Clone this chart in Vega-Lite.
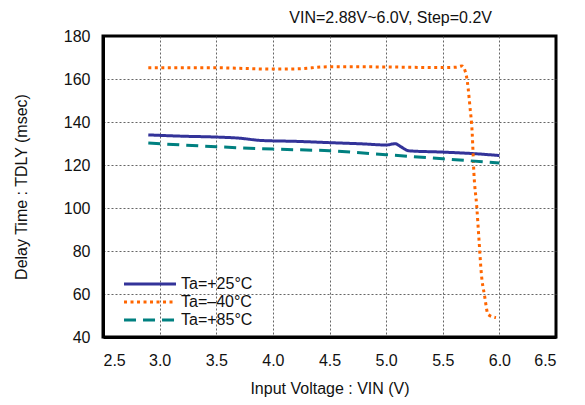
{
  "$schema": "https://vega.github.io/schema/vega-lite/v6.json",
  "width": 453,
  "height": 301,
  "autosize": {"type": "none"},
  "padding": {"left": 103, "top": 36, "right": 29, "bottom": 68},
  "background": "white",
  "config": {
    "font": "Liberation Sans",
    "view": {"stroke": "#000000", "strokeWidth": 3, "strokeOpacity": 1},
    "axis": {
      "labelFont": "Liberation Sans",
      "titleFont": "Liberation Sans",
      "labelFontSize": 16,
      "titleFontSize": 16,
      "labelColor": "#111",
      "titleColor": "#111",
      "titleFontWeight": "normal",
      "gridColor": "#555",
      "gridDash": [2, 2],
      "gridWidth": 1,
      "ticks": false,
      "domain": true,
      "domainColor": "#000000",
      "domainWidth": 3
    },
    "legend": {"padding": 0}
  },
  "title": {
    "text": "VIN=2.88V~6.0V, Step=0.2V",
    "anchor": "end",
    "frame": "group",
    "dx": -64,
    "offset": 2,
    "fontSize": 16,
    "fontWeight": "normal",
    "font": "Liberation Sans",
    "color": "#111"
  },
  "data": {
    "values": [
      {"v": 2.9, "t": 134.0, "s": "Ta=+25°C"},
      {"v": 3.2, "t": 133.4, "s": "Ta=+25°C"},
      {"v": 3.5, "t": 133.0, "s": "Ta=+25°C"},
      {"v": 3.7, "t": 132.5, "s": "Ta=+25°C"},
      {"v": 3.9, "t": 131.4, "s": "Ta=+25°C"},
      {"v": 4.2, "t": 131.0, "s": "Ta=+25°C"},
      {"v": 4.5, "t": 130.4, "s": "Ta=+25°C"},
      {"v": 4.8, "t": 129.8, "s": "Ta=+25°C"},
      {"v": 5.0, "t": 129.3, "s": "Ta=+25°C"},
      {"v": 5.08, "t": 129.9, "s": "Ta=+25°C"},
      {"v": 5.13, "t": 128.5, "s": "Ta=+25°C"},
      {"v": 5.2, "t": 126.6, "s": "Ta=+25°C"},
      {"v": 5.5, "t": 126.0, "s": "Ta=+25°C"},
      {"v": 5.8, "t": 125.2, "s": "Ta=+25°C"},
      {"v": 6.0, "t": 124.4, "s": "Ta=+25°C"},
      {"v": 2.9, "t": 165.2, "s": "Ta=–40°C"},
      {"v": 3.5, "t": 165.2, "s": "Ta=–40°C"},
      {"v": 4.0, "t": 164.6, "s": "Ta=–40°C"},
      {"v": 4.2, "t": 164.7, "s": "Ta=–40°C"},
      {"v": 4.5, "t": 165.7, "s": "Ta=–40°C"},
      {"v": 5.0, "t": 165.6, "s": "Ta=–40°C"},
      {"v": 5.5, "t": 165.3, "s": "Ta=–40°C"},
      {"v": 5.62, "t": 165.5, "s": "Ta=–40°C"},
      {"v": 5.67, "t": 166.1, "s": "Ta=–40°C"},
      {"v": 5.71, "t": 161.1, "s": "Ta=–40°C"},
      {"v": 5.74, "t": 147.2, "s": "Ta=–40°C"},
      {"v": 5.76, "t": 134.8, "s": "Ta=–40°C"},
      {"v": 5.775, "t": 116.3, "s": "Ta=–40°C"},
      {"v": 5.8, "t": 100.8, "s": "Ta=–40°C"},
      {"v": 5.82, "t": 85.3, "s": "Ta=–40°C"},
      {"v": 5.84, "t": 69.9, "s": "Ta=–40°C"},
      {"v": 5.87, "t": 59.0, "s": "Ta=–40°C"},
      {"v": 5.9, "t": 50.5, "s": "Ta=–40°C"},
      {"v": 5.97, "t": 49.0, "s": "Ta=–40°C"},
      {"v": 2.9, "t": 130.2, "s": "Ta=+85°C"},
      {"v": 3.5, "t": 128.5, "s": "Ta=+85°C"},
      {"v": 4.0, "t": 127.4, "s": "Ta=+85°C"},
      {"v": 4.5, "t": 126.6, "s": "Ta=+85°C"},
      {"v": 5.0, "t": 124.8, "s": "Ta=+85°C"},
      {"v": 5.5, "t": 122.9, "s": "Ta=+85°C"},
      {"v": 6.0, "t": 120.9, "s": "Ta=+85°C"}
    ]
  },
  "mark": {"type": "line", "strokeWidth": 3, "interpolate": "monotone"},
  "encoding": {
    "x": {
      "field": "v", "type": "quantitative",
      "scale": {"domain": [2.5, 6.5], "nice": false, "zero": false},
      "axis": {
        "values": [2.5, 3.0, 3.5, 4.0, 4.5, 5.0, 5.5, 6.0, 6.5], "format": ".1f",
        "labelPadding": 15, "titlePadding": 12, "title": "Input Voltage : VIN (V)",
        "gridOpacity": {"condition": {"test": "datum.value <= 2.5 || datum.value >= 6.5", "value": 0}, "value": 0.9}
      }
    },
    "y": {
      "field": "t", "type": "quantitative",
      "scale": {"domain": [40, 180], "nice": false, "zero": false},
      "axis": {
        "values": [40, 60, 80, 100, 120, 140, 160, 180],
        "labelPadding": 13, "titlePadding": 34, "title": "Delay Time : TDLY (msec)",
        "gridOpacity": {"condition": {"test": "datum.value <= 40 || datum.value >= 180", "value": 0}, "value": 0.9}
      }
    },
    "color": {
      "field": "s", "type": "nominal",
      "sort": ["Ta=+25°C", "Ta=–40°C", "Ta=+85°C"],
      "scale": {"domain": ["Ta=+25°C", "Ta=–40°C", "Ta=+85°C"], "range": ["#333399", "#FF6600", "#008080"]},
      "legend": {
        "title": null, "orient": "none", "legendX": 39, "legendY": 240,
        "symbolType": "M-5,0H5", "symbolSize": 108, "symbolStrokeWidth": 3,
        "labelFontSize": 16, "labelFont": "Liberation Sans", "labelColor": "#111",
        "rowPadding": 2, "labelOffset": 23
      }
    },
    "strokeDash": {
      "field": "s", "type": "nominal",
      "sort": ["Ta=+25°C", "Ta=–40°C", "Ta=+85°C"],
      "scale": {"domain": ["Ta=+25°C", "Ta=–40°C", "Ta=+85°C"], "range": [[1, 0], [3, 3.5], [12, 7]]},
      "legend": {
        "title": null, "orient": "none", "legendX": 39, "legendY": 240,
        "symbolType": "M-5,0H5", "symbolSize": 108, "symbolStrokeWidth": 3,
        "labelFontSize": 16, "labelFont": "Liberation Sans", "labelColor": "#111",
        "rowPadding": 2, "labelOffset": 23
      }
    }
  }
}
